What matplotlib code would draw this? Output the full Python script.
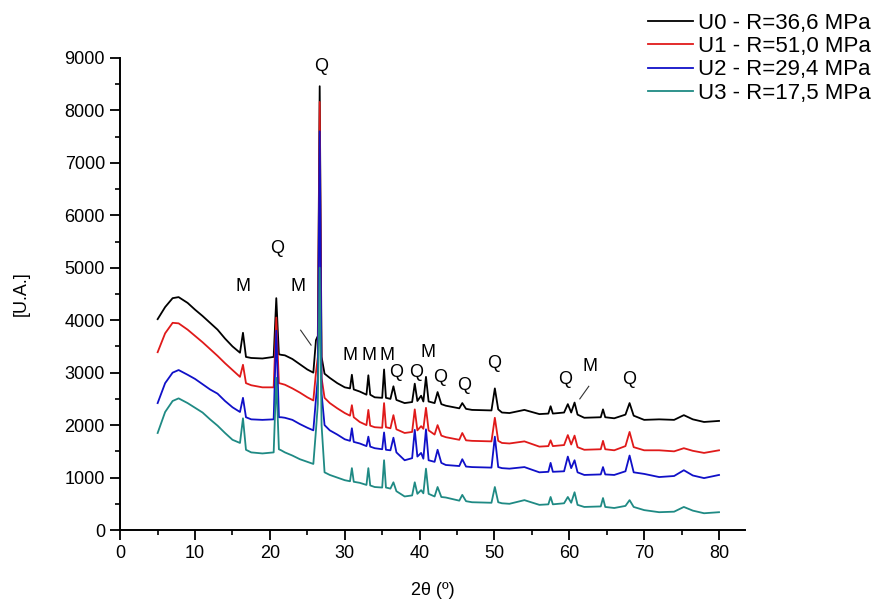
"""
XRD patterns of samples U0-U3 with quartz (Q) and mullite (M) peaks marked.
"""

import matplotlib
matplotlib.use("Agg")
import matplotlib.pyplot as plt
from matplotlib.ticker import MultipleLocator

plt.rcParams['font.family'] = ['Liberation Sans', 'DejaVu Sans']

two_theta = [5, 6, 7, 7.8, 9, 10, 11, 12, 13, 14, 15, 16, 16.4, 16.8, 17.5, 19,
             20.5, 20.85, 21.2, 21.5, 22, 23, 24, 25, 25.8, 26.15, 26.4, 26.65,
             26.9, 27.3, 28, 29, 30, 30.7, 30.95, 31.2, 32, 32.9, 33.15, 33.4,
             34, 35.0, 35.25, 35.5, 36.1, 36.5, 36.9, 38, 39.0, 39.35, 39.7,
             40.2, 40.5, 40.85, 41.2, 42.0, 42.4, 42.9, 43.5, 45.3, 45.7, 46.2,
             47, 49.6, 50.05, 50.5, 51, 52, 54, 56, 57.2, 57.5, 57.8, 59.3, 59.8,
             60.25, 60.7, 61.1, 62, 64.2, 64.5, 64.8, 66, 67.5, 68.05, 68.6, 70,
             72, 74, 75.3, 76.5, 78, 80]

u0 = [4020, 4250, 4420, 4440, 4330, 4200, 4080, 3950, 3820, 3650, 3500, 3380,
      3760, 3300, 3280, 3270, 3300, 4420, 3350, 3340, 3330, 3260, 3160, 3060,
      3000, 3620, 3700, 8460, 3300, 2980, 2900, 2800, 2720, 2700, 2960, 2680,
      2640, 2580, 2950, 2580, 2530, 2520, 3060, 2520, 2500, 2740, 2480, 2420,
      2440, 2790, 2460, 2560, 2450, 2920, 2450, 2420, 2630, 2400, 2370, 2320,
      2420, 2310, 2290, 2280, 2700, 2300, 2240, 2230, 2290, 2210, 2220, 2360,
      2220, 2240, 2400, 2240, 2430, 2200, 2140, 2150, 2300, 2150, 2130, 2200,
      2420, 2180, 2100, 2110, 2100, 2190, 2110, 2060, 2080]

u1 = [3390, 3750, 3950, 3940, 3820, 3700, 3580, 3450, 3320, 3180, 3050, 2920,
      3150, 2800, 2760, 2720, 2720, 4050, 2800, 2790, 2770, 2700, 2620, 2530,
      2470, 3000, 3300, 8160, 2900, 2520, 2420, 2320, 2230, 2180, 2380, 2150,
      2060, 2000, 2290, 1990, 1960, 1950, 2420, 1960, 1940, 2190, 1920, 1850,
      1870, 2300, 1900, 1980, 1930, 2330, 1900, 1820, 2000, 1800, 1770, 1720,
      1850, 1710, 1700, 1690, 2140, 1700, 1660, 1650, 1690, 1590, 1600, 1710,
      1600, 1620, 1810, 1630, 1800, 1580, 1530, 1540, 1700, 1540, 1520, 1600,
      1870, 1580, 1520, 1520, 1500, 1560, 1510, 1470, 1520]

u2 = [2420, 2800, 3000, 3050, 2960, 2880, 2780, 2680, 2600, 2460, 2340, 2250,
      2520, 2150, 2110, 2100, 2110, 3800, 2150, 2150, 2140, 2100, 2020, 1950,
      1900, 2500, 2900, 7600, 2600, 2000, 1900, 1820, 1730, 1700, 1940, 1680,
      1650, 1600, 1780, 1590, 1560, 1540, 1860, 1530, 1520, 1760, 1480, 1330,
      1370, 1910, 1400, 1470, 1360, 1920, 1330, 1300, 1530, 1280, 1240, 1220,
      1350, 1210, 1200, 1190, 1780, 1200, 1180, 1170, 1200, 1100, 1110, 1280,
      1110, 1120, 1400, 1180, 1330, 1100, 1050, 1060, 1200, 1060, 1050, 1120,
      1420, 1100, 1070, 1010, 1030, 1140, 1040, 990, 1050]

u3 = [1850, 2250, 2460, 2510, 2420, 2330, 2240, 2110, 1990, 1850, 1720, 1660,
      2130, 1530, 1480, 1460, 1480, 2900, 1540, 1520, 1480, 1420, 1350, 1300,
      1260, 1900, 2400, 5000, 2000, 1100, 1050, 1000, 950, 930, 1180, 920,
      900, 860, 1180, 850, 820, 810, 1330, 810, 790, 910, 740, 640,
      660, 910, 690, 760, 700, 1170, 690, 640, 820, 630, 620, 560,
      670, 550, 530, 520, 820, 530, 510, 500, 570, 480, 490, 630,
      490, 510, 630, 520, 720, 480, 440, 450, 610, 440, 420, 460,
      570, 440, 380, 340, 350, 440, 370, 320, 340]

labels = ["U0 - R=36,6 MPa", "U1 - R=51,0 MPa", "U2 - R=29,4 MPa", "U3 - R=17,5 MPa"]
colors = ["#000000", "#e01a1a", "#1010c8", "#1f8a84"]

# peak marks: (letter, 2theta, intensity)
marks = [("M", 16.4, 4650), ("Q", 20.9, 5370), ("M", 23.8, 4650), ("Q", 26.8, 8840),
         ("M", 30.7, 3330), ("M", 33.2, 3330), ("M", 35.6, 3330), ("Q", 36.9, 3010),
         ("Q", 39.5, 3010), ("M", 41.1, 3390), ("Q", 42.7, 2900), ("Q", 46.0, 2760),
         ("Q", 49.9, 3180), ("Q", 59.5, 2860), ("M", 62.7, 3120), ("Q", 68.0, 2860)]

# leader lines for the two M marks that sit away from their peak
leaders = [((24.1, 3810), (25.5, 3525)), ((62.6, 2740), (61.4, 2500))]


def main():
    fig = plt.figure(figsize=(8.84, 6.03), dpi=100)
    ax = fig.add_axes([0.136, 0.121, 0.707, 0.783])

    for series, lab, col in zip([u0, u1, u2, u3], labels, colors):
        ax.plot(two_theta, series, color=col, lw=1.3, label=lab)

    for letter, x, y in marks:
        ax.text(x, y, letter, ha='center', va='center', fontsize=13)
    for (x0, y0), (x1, y1) in leaders:
        ax.plot([x0, x1], [y0, y1], color='#333333', lw=0.8)

    ax.set_xlim(0, 83.5)
    ax.set_ylim(0, 9000)
    ax.xaxis.set_major_locator(MultipleLocator(10))
    ax.xaxis.set_minor_locator(MultipleLocator(5))
    ax.yaxis.set_major_locator(MultipleLocator(1000))
    ax.yaxis.set_minor_locator(MultipleLocator(500))

    ax.spines['top'].set_visible(False)
    ax.spines['right'].set_visible(False)
    for side in ['left', 'bottom']:
        ax.spines[side].set_linewidth(1.4)
    ax.tick_params(which='major', direction='out', length=7, width=1.3,
                   labelsize=13, pad=4)
    ax.tick_params(which='minor', direction='out', length=3.5, width=1.2)

    ax.set_xlabel("2θ (º)", fontsize=13, labelpad=14)
    ax.set_ylabel("[U.A.]", fontsize=13, labelpad=25)

    fig.legend(loc='upper right', bbox_to_anchor=(0.998, 0.997), frameon=False,
               fontsize=16, handlelength=2.0, handletextpad=0.25,
               labelspacing=0.1, borderpad=0)

    fig.savefig("out.png", dpi=100)


if __name__ == "__main__":
    main()
